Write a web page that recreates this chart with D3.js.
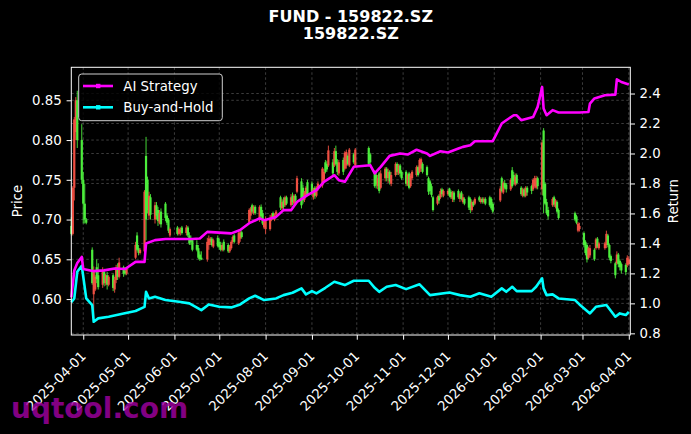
<!DOCTYPE html>
<html>
<head>
<meta charset="utf-8">
<script src="https://cdn.jsdelivr.net/npm/d3@7"></script>
<style>
  body { margin: 0; background: #000; }
  svg { display: block; font-family: "DejaVu Sans", sans-serif; }
</style>
</head>
<body>
<svg id="chart" width="691" height="434"></svg>
<script>
// daily candles: [date, open, high, low, close]
const candles = [
  ["2025-03-24",.692,.703,.680,.682],["2025-03-25",.682,.742,.680,.740],["2025-03-26",.740,.829,.724,.826],
  ["2025-03-27",.810,.854,.800,.850],["2025-03-28",.850,.862,.790,.800],["2025-03-31",.800,.820,.745,.750],
  ["2025-04-01",.750,.760,.695,.720],["2025-04-02",.720,.745,.695,.700],["2025-04-03",.700,.702,.694,.696],
  ["2025-04-07",.662,.665,.618,.620],["2025-04-08",.606,.641,.576,.634],["2025-04-09",.612,.630,.610,.628],
  ["2025-04-10",.640,.650,.620,.625],["2025-04-11",.630,.645,.612,.615],["2025-04-14",.618,.640,.614,.636],
  ["2025-04-15",.634,.638,.616,.620],["2025-04-16",.620,.632,.617,.630],["2025-04-17",.630,.634,.612,.618],
  ["2025-04-18",.618,.630,.616,.628],["2025-04-21",.630,.632,.610,.614],["2025-04-22",.612,.628,.608,.624],
  ["2025-04-23",.624,.643,.620,.640],["2025-04-24",.640,.645,.624,.628],["2025-04-25",.628,.652,.626,.646],
  ["2025-04-28",.640,.642,.628,.632],["2025-04-29",.636,.640,.630,.632],["2025-04-30",.632,.640,.630,.638],
  ["2025-05-06",.652,.672,.650,.668],["2025-05-07",.680,.684,.660,.662],["2025-05-08",.664,.668,.655,.658],
  ["2025-05-09",.658,.664,.656,.662],["2025-05-12",.660,.737,.658,.735],["2025-05-13",.780,.804,.674,.700],
  ["2025-05-14",.750,.754,.708,.712],["2025-05-15",.705,.735,.700,.730],["2025-05-16",.728,.732,.700,.706],
  ["2025-05-19",.700,.722,.695,.718],["2025-05-20",.718,.722,.700,.705],["2025-05-21",.712,.716,.692,.698],
  ["2025-05-22",.696,.712,.694,.708],["2025-05-23",.710,.714,.690,.694],["2025-05-26",.720,.722,.698,.702],
  ["2025-05-27",.705,.708,.693,.696],["2025-05-28",.700,.702,.683,.686],["2025-05-29",.680,.690,.678,.688],
  ["2025-06-03",.690,.692,.680,.682],["2025-06-04",.682,.690,.680,.688],["2025-06-05",.684,.690,.680,.687],
  ["2025-06-06",.690,.692,.681,.683],["2025-06-09",.683,.693,.680,.690],["2025-06-10",.690,.692,.678,.680],
  ["2025-06-11",.680,.684,.668,.670],["2025-06-12",.676,.680,.668,.672],["2025-06-13",.674,.676,.660,.662],
  ["2025-06-16",.668,.674,.660,.662],["2025-06-17",.664,.668,.650,.652],["2025-06-18",.656,.660,.648,.650],
  ["2025-06-19",.652,.660,.649,.650],["2025-06-23",.650,.677,.647,.672],["2025-06-24",.668,.680,.662,.676],
  ["2025-06-25",.672,.678,.668,.676],["2025-06-26",.676,.678,.666,.668],["2025-06-27",.666,.676,.664,.674],
  ["2025-06-30",.677,.680,.665,.667],["2025-07-01",.672,.676,.662,.665],["2025-07-02",.668,.672,.660,.662],
  ["2025-07-03",.662,.670,.660,.668],["2025-07-04",.672,.675,.660,.662],["2025-07-07",.668,.670,.658,.660],
  ["2025-07-08",.660,.668,.658,.666],["2025-07-09",.664,.674,.662,.672],["2025-07-10",.672,.680,.670,.678],
  ["2025-07-11",.680,.682,.670,.672],["2025-07-14",.670,.685,.668,.683],["2025-07-15",.676,.686,.672,.684],
  ["2025-07-16",.684,.686,.676,.678],["2025-07-21",.697,.714,.695,.712],["2025-07-22",.705,.716,.700,.714],
  ["2025-07-23",.718,.720,.708,.710],["2025-07-24",.708,.718,.706,.716],["2025-07-25",.716,.718,.706,.708],
  ["2025-07-28",.700,.718,.697,.716],["2025-07-29",.716,.719,.700,.704],["2025-07-30",.708,.712,.693,.695],
  ["2025-07-31",.690,.700,.688,.698],["2025-08-01",.688,.704,.682,.700],["2025-08-04",.688,.706,.686,.702],
  ["2025-08-05",.700,.708,.698,.705],["2025-08-06",.708,.710,.700,.702],["2025-08-07",.700,.708,.698,.706],
  ["2025-08-08",.706,.712,.704,.710],["2025-08-11",.728,.730,.712,.715],["2025-08-12",.714,.726,.710,.722],
  ["2025-08-13",.724,.728,.712,.716],["2025-08-14",.718,.730,.716,.728],["2025-08-15",.728,.730,.718,.720],
  ["2025-08-18",.718,.732,.716,.728],["2025-08-19",.730,.734,.718,.722],["2025-08-20",.720,.732,.718,.730],
  ["2025-08-21",.730,.732,.720,.724],["2025-08-22",.735,.755,.733,.752],["2025-08-25",.748,.752,.714,.718],
  ["2025-08-26",.740,.744,.720,.724],["2025-08-27",.725,.736,.722,.734],["2025-08-28",.730,.742,.728,.740],
  ["2025-08-29",.747,.750,.730,.732],["2025-09-01",.745,.748,.730,.733],["2025-09-02",.728,.740,.725,.738],
  ["2025-09-03",.740,.742,.726,.730],["2025-09-04",.730,.742,.728,.740],["2025-09-05",.740,.748,.736,.745],
  ["2025-09-08",.743,.766,.740,.764],["2025-09-09",.750,.764,.746,.760],["2025-09-10",.772,.775,.758,.760],
  ["2025-09-11",.770,.774,.760,.763],["2025-09-12",.768,.793,.766,.787],["2025-09-15",.772,.776,.755,.758],
  ["2025-09-16",.768,.790,.766,.786],["2025-09-17",.786,.793,.768,.770],["2025-09-18",.772,.776,.756,.760],
  ["2025-09-19",.758,.775,.755,.772],["2025-09-22",.775,.778,.756,.760],["2025-09-23",.764,.786,.762,.784],
  ["2025-09-24",.768,.788,.764,.785],["2025-09-25",.780,.782,.768,.770],["2025-09-26",.768,.790,.766,.788],
  ["2025-09-29",.782,.784,.770,.772],["2025-09-30",.768,.790,.766,.788],["2025-10-09",.790,.792,.768,.770],
  ["2025-10-10",.782,.784,.770,.772],["2025-10-13",.760,.762,.740,.742],["2025-10-14",.756,.760,.739,.744],
  ["2025-10-15",.742,.756,.738,.752],["2025-10-16",.758,.760,.733,.736],["2025-10-17",.740,.762,.738,.758],
  ["2025-10-20",.752,.766,.748,.764],["2025-10-21",.764,.766,.748,.752],["2025-10-22",.752,.764,.746,.760],
  ["2025-10-23",.760,.762,.744,.748],["2025-10-24",.745,.760,.742,.756],["2025-10-27",.756,.772,.754,.770],
  ["2025-10-28",.770,.772,.756,.760],["2025-10-29",.758,.770,.756,.768],["2025-10-30",.768,.770,.754,.758],
  ["2025-10-31",.760,.762,.750,.752],["2025-11-03",.760,.762,.742,.745],["2025-11-04",.744,.758,.742,.756],
  ["2025-11-05",.758,.760,.738,.740],["2025-11-06",.742,.758,.740,.755],["2025-11-07",.752,.762,.750,.760],
  ["2025-11-10",.756,.768,.754,.766],["2025-11-11",.766,.768,.754,.756],["2025-11-12",.760,.777,.758,.775],
  ["2025-11-13",.764,.778,.760,.776],["2025-11-14",.770,.772,.758,.760],["2025-11-17",.766,.768,.754,.756],
  ["2025-11-18",.752,.754,.731,.735],["2025-11-19",.748,.750,.732,.736],["2025-11-20",.742,.745,.728,.731],
  ["2025-11-21",.728,.730,.710,.712],["2025-11-24",.720,.730,.718,.728],["2025-11-25",.730,.732,.720,.724],
  ["2025-11-26",.728,.739,.726,.736],["2025-11-27",.738,.740,.728,.732],["2025-11-28",.730,.738,.728,.736],
  ["2025-12-01",.732,.738,.730,.736],["2025-12-02",.739,.740,.728,.730],["2025-12-03",.735,.737,.726,.728],
  ["2025-12-04",.726,.736,.722,.734],["2025-12-05",.734,.736,.722,.725],["2025-12-08",.736,.738,.726,.728],
  ["2025-12-09",.726,.734,.722,.732],["2025-12-10",.734,.736,.724,.726],["2025-12-11",.722,.732,.720,.728],
  ["2025-12-12",.726,.728,.718,.720],["2025-12-15",.728,.730,.712,.715],["2025-12-16",.726,.728,.708,.712],
  ["2025-12-17",.712,.724,.710,.722],["2025-12-18",.722,.724,.716,.718],["2025-12-19",.720,.728,.718,.726],
  ["2025-12-22",.728,.730,.722,.724],["2025-12-23",.722,.728,.720,.726],["2025-12-24",.726,.728,.720,.722],
  ["2025-12-25",.722,.728,.720,.726],["2025-12-26",.726,.728,.718,.720],["2025-12-29",.728,.730,.716,.718],
  ["2025-12-30",.726,.728,.712,.714],["2025-12-31",.720,.722,.708,.710],["2026-01-05",.724,.742,.722,.739],
  ["2026-01-06",.752,.754,.734,.736],["2026-01-07",.734,.748,.732,.746],["2026-01-08",.746,.750,.738,.740],
  ["2026-01-09",.744,.746,.734,.738],["2026-01-12",.738,.752,.736,.750],["2026-01-13",.762,.766,.740,.742],
  ["2026-01-14",.756,.760,.744,.748],["2026-01-15",.744,.758,.742,.754],["2026-01-16",.756,.758,.744,.746],
  ["2026-01-19",.740,.742,.730,.732],["2026-01-20",.730,.740,.728,.738],["2026-01-21",.738,.740,.728,.730],
  ["2026-01-22",.730,.742,.728,.740],["2026-01-23",.740,.742,.730,.734],["2026-01-26",.742,.744,.732,.736],
  ["2026-01-27",.738,.752,.736,.750],["2026-01-28",.742,.755,.740,.752],["2026-01-29",.740,.755,.738,.752],
  ["2026-01-30",.752,.754,.738,.742],["2026-02-02",.738,.800,.731,.797],["2026-02-03",.812,.815,.708,.730],
  ["2026-02-04",.745,.747,.718,.720],["2026-02-05",.722,.726,.706,.708],["2026-02-06",.712,.716,.700,.704],
  ["2026-02-09",.718,.728,.716,.726],["2026-02-10",.728,.730,.716,.719],["2026-02-11",.716,.726,.714,.724],
  ["2026-02-12",.722,.724,.708,.710],["2026-02-13",.712,.714,.700,.702],["2026-02-24",.708,.710,.698,.700],
  ["2026-02-25",.704,.706,.694,.696],["2026-02-26",.686,.697,.684,.695],["2026-02-27",.688,.696,.685,.692],
  ["2026-03-02",.683,.685,.665,.668],["2026-03-03",.672,.674,.655,.658],["2026-03-04",.668,.670,.646,.650],
  ["2026-03-05",.652,.666,.650,.664],["2026-03-06",.655,.668,.652,.664],["2026-03-09",.662,.664,.648,.650],
  ["2026-03-10",.664,.677,.662,.675],["2026-03-11",.676,.678,.664,.666],["2026-03-12",.664,.672,.662,.670],
  ["2026-03-16",.664,.672,.662,.670],["2026-03-17",.668,.686,.664,.682],["2026-03-18",.680,.682,.665,.668],
  ["2026-03-19",.668,.670,.649,.652],["2026-03-20",.654,.656,.645,.648],["2026-03-23",.645,.647,.626,.630],
  ["2026-03-24",.645,.660,.643,.656],["2026-03-25",.656,.658,.640,.644],["2026-03-26",.648,.650,.636,.640],
  ["2026-03-27",.644,.646,.632,.636],["2026-03-30",.643,.645,.630,.634],["2026-03-31",.643,.655,.640,.652],
  ["2026-04-01",.644,.654,.642,.650]
];

// cumulative return curves: [date, value]
const strategyReturn = [
  ["2025-03-24",1.04],["2025-03-26",1.22],["2025-03-28",1.27],["2025-03-31",1.31],["2025-04-01",1.23],
  ["2025-04-08",1.215],["2025-04-15",1.22],["2025-04-22",1.233],["2025-04-29",1.229],["2025-05-06",1.277],
  ["2025-05-12",1.277],["2025-05-13",1.40],["2025-05-19",1.422],["2025-05-26",1.429],["2025-06-13",1.429],
  ["2025-06-18",1.433],["2025-06-23",1.477],["2025-07-09",1.467],["2025-07-15",1.489],["2025-07-21",1.535],
  ["2025-07-28",1.567],["2025-07-31",1.555],["2025-08-08",1.577],["2025-08-13",1.622],["2025-08-18",1.622],
  ["2025-08-22",1.677],["2025-08-29",1.722],["2025-09-04",1.755],["2025-09-09",1.811],["2025-09-16",1.855],
  ["2025-09-19",1.822],["2025-09-23",1.811],["2025-09-29",1.911],["2025-10-10",1.922],["2025-10-13",1.867],
  ["2025-10-17",1.911],["2025-10-23",1.984],["2025-10-30",2.0],["2025-11-04",1.993],["2025-11-10",2.025],
  ["2025-11-17",2.0],["2025-11-19",1.984],["2025-11-26",2.015],["2025-12-01",2.007],["2025-12-08",2.033],
  ["2025-12-11",2.044],["2025-12-16",2.055],["2025-12-19",2.082],["2025-12-31",2.082],["2026-01-06",2.2],
  ["2026-01-09",2.222],["2026-01-14",2.255],["2026-01-16",2.255],["2026-01-19",2.222],["2026-01-27",2.244],
  ["2026-01-30",2.311],["2026-02-02",2.444],["2026-02-03",2.3],["2026-02-05",2.255],["2026-02-09",2.289],
  ["2026-02-13",2.273],["2026-02-27",2.273],["2026-03-05",2.277],["2026-03-06",2.333],["2026-03-09",2.367],
  ["2026-03-16",2.389],["2026-03-23",2.393],["2026-03-24",2.495],["2026-03-27",2.477],["2026-04-01",2.46]
];

const holdReturn = [
  ["2025-03-24",1.007],["2025-03-26",1.033],["2025-03-28",1.211],["2025-03-31",1.251],["2025-04-03",1.033],
  ["2025-04-07",0.989],["2025-04-08",0.877],["2025-04-11",0.90],["2025-04-18",0.911],["2025-04-28",0.933],
  ["2025-05-06",0.949],["2025-05-12",0.977],["2025-05-13",1.077],["2025-05-15",1.033],["2025-05-19",1.044],
  ["2025-05-26",1.022],["2025-06-04",1.011],["2025-06-11",1.0],["2025-06-19",0.955],["2025-06-24",0.993],
  ["2025-07-01",0.977],["2025-07-09",0.973],["2025-07-15",0.993],["2025-07-21",1.033],["2025-07-25",1.051],
  ["2025-07-31",1.022],["2025-08-08",1.033],["2025-08-13",1.055],["2025-08-19",1.071],["2025-08-25",1.10],
  ["2025-08-28",1.06],["2025-09-01",1.082],["2025-09-04",1.067],["2025-09-10",1.104],["2025-09-16",1.144],
  ["2025-09-23",1.122],["2025-09-29",1.151],["2025-10-09",1.151],["2025-10-13",1.104],["2025-10-16",1.077],
  ["2025-10-21",1.111],["2025-10-27",1.122],["2025-11-03",1.095],["2025-11-12",1.127],["2025-11-19",1.055],
  ["2025-12-02",1.073],["2025-12-09",1.055],["2025-12-16",1.044],["2025-12-22",1.067],["2025-12-30",1.044],
  ["2026-01-06",1.10],["2026-01-09",1.077],["2026-01-13",1.111],["2026-01-16",1.082],["2026-01-26",1.082],
  ["2026-01-29",1.111],["2026-02-02",1.167],["2026-02-03",1.10],["2026-02-05",1.055],["2026-02-09",1.06],
  ["2026-02-13",1.033],["2026-02-24",1.022],["2026-02-27",0.993],["2026-03-06",0.933],["2026-03-10",0.977],
  ["2026-03-17",0.989],["2026-03-23",0.911],["2026-03-26",0.933],["2026-03-30",0.922],["2026-04-01",0.944]
];

const monthTicks = ["2025-04-01","2025-05-01","2025-06-01","2025-07-01","2025-08-01","2025-09-01","2025-10-01",
  "2025-11-01","2025-12-01","2026-01-01","2026-02-01","2026-03-01","2026-04-01"];
const priceTicks = [0.60, 0.65, 0.70, 0.75, 0.80, 0.85];
const returnTicks = [0.8, 1.0, 1.2, 1.4, 1.6, 1.8, 2.0, 2.2, 2.4];

const width = 691, height = 434;
const margin = { top: 67.3, right: 60.7, bottom: 99, left: 71.3 };
const parse = d3.timeParse('%Y-%m-%d');
const upColor = '#ef4f42', downColor = '#4ced3c';

const svg = d3.select('#chart');
svg.append('rect').attr('width', width).attr('height', height).attr('fill', '#000');

const x = d3.scaleTime()
  .domain([parse('2025-03-24'), parse('2026-04-02')])
  .range([margin.left, width - margin.right]);
const yPrice = d3.scaleLinear().domain([0.5548, 0.8915]).range([height - margin.bottom, margin.top]);
const yRet = d3.scaleLinear().domain([0.789, 2.575]).range([height - margin.bottom, margin.top]);

// grid (both y axes share the plot area, so both sets of lines show)
const grid = svg.append('g')
  .attr('stroke', '#666').attr('stroke-width', 0.6).attr('stroke-dasharray', '2.5,2.5');
monthTicks.forEach(t => grid.append('line')
  .attr('x1', x(parse(t))).attr('x2', x(parse(t)))
  .attr('y1', margin.top).attr('y2', height - margin.bottom));
priceTicks.forEach(t => grid.append('line')
  .attr('x1', margin.left).attr('x2', width - margin.right)
  .attr('y1', yPrice(t)).attr('y2', yPrice(t)));
returnTicks.forEach(t => grid.append('line')
  .attr('x1', margin.left).attr('x2', width - margin.right)
  .attr('y1', yRet(t)).attr('y2', yRet(t)));

// candles
const bodyW = 2.2;
const cg = svg.append('g');
candles.forEach(([d, o, h, l, c]) => {
  const cx = x(parse(d));
  const col = c >= o ? upColor : downColor;
  cg.append('line')
    .attr('x1', cx).attr('x2', cx)
    .attr('y1', yPrice(h)).attr('y2', yPrice(l))
    .attr('stroke', col).attr('stroke-width', 0.9);
  const top = yPrice(Math.max(o, c)), bot = yPrice(Math.min(o, c));
  cg.append('rect')
    .attr('x', cx - bodyW / 2).attr('width', bodyW)
    .attr('y', top).attr('height', Math.max(0.8, bot - top))
    .attr('fill', col);
});

// return lines
const line = d3.line().x(d => x(parse(d[0]))).y(d => yRet(d[1]));
svg.append('path').datum(holdReturn)
  .attr('d', line).attr('fill', 'none')
  .attr('stroke', '#00ffff').attr('stroke-width', 2.6).attr('stroke-linejoin', 'round');
svg.append('path').datum(strategyReturn)
  .attr('d', line).attr('fill', 'none')
  .attr('stroke', '#ff00ff').attr('stroke-width', 2.6).attr('stroke-linejoin', 'round');

// axes
const fontSize = 13.3;
const xAxis = svg.append('g')
  .attr('transform', `translate(0,${height - margin.bottom})`)
  .call(d3.axisBottom(x)
    .tickValues(monthTicks.map(parse))
    .tickFormat(d3.timeFormat('%Y-%m-%d'))
    .tickSize(4.7).tickSizeOuter(0));
xAxis.selectAll('text')
  .attr('y', 0).attr('dy', 0).attr('x', 0)
  .attr('text-anchor', 'end')
  .attr('transform', 'translate(3,22) rotate(-45)');

const yAxisL = svg.append('g')
  .attr('transform', `translate(${margin.left},0)`)
  .call(d3.axisLeft(yPrice).tickValues(priceTicks).tickFormat(d3.format('.2f'))
    .tickSize(4.7).tickPadding(5).tickSizeOuter(0));
const yAxisR = svg.append('g')
  .attr('transform', `translate(${width - margin.right},0)`)
  .call(d3.axisRight(yRet).tickValues(returnTicks).tickFormat(d3.format('.1f'))
    .tickSize(4.7).tickPadding(4.5).tickSizeOuter(0));

[xAxis, yAxisL, yAxisR].forEach(a => {
  a.select('.domain').remove();
  a.selectAll('line').attr('stroke', '#fff');
  a.selectAll('text').attr('fill', '#fff')
    .style('font-size', fontSize + 'px').style('font-family', '"DejaVu Sans", sans-serif');
});

// frame
svg.append('rect')
  .attr('x', margin.left).attr('y', margin.top)
  .attr('width', width - margin.left - margin.right)
  .attr('height', height - margin.top - margin.bottom)
  .attr('fill', 'none').attr('stroke', '#fff').attr('stroke-width', 1);

// axis labels
const midY = (margin.top + height - margin.bottom) / 2;
svg.append('text').text('Price')
  .attr('transform', `translate(21.5,${midY}) rotate(-90)`)
  .attr('text-anchor', 'middle').attr('fill', '#fff').style('font-size', fontSize + 'px');
svg.append('text').text('Return')
  .attr('transform', `translate(678,${midY}) rotate(-90)`)
  .attr('text-anchor', 'middle').attr('fill', '#fff').style('font-size', fontSize + 'px');

// title
const cx0 = (margin.left + width - margin.right) / 2;
const title = svg.append('text').attr('text-anchor', 'middle').attr('fill', '#fff')
  .style('font-size', '16px').style('font-weight', 'bold');
title.append('tspan').attr('x', cx0).attr('y', 21.7).text('FUND - 159822.SZ');
title.append('tspan').attr('x', cx0).attr('y', 39).text('159822.SZ');

// legend
const legend = svg.append('g');
legend.append('rect')
  .attr('x', 78.7).attr('y', 74).attr('width', 143.6).attr('height', 46.7).attr('rx', 3)
  .attr('fill', '#000').attr('fill-opacity', 0.8).attr('stroke', '#cfcfcf').attr('stroke-width', 1);
[['AI Strategy', '#ff00ff', 86], ['Buy-and-Hold', '#00ffff', 107.3]].forEach(([name, col, ly]) => {
  legend.append('line').attr('x1', 83).attr('x2', 113).attr('y1', ly).attr('y2', ly)
    .attr('stroke', col).attr('stroke-width', 2.6);
  legend.append('rect').attr('x', 96).attr('y', ly - 2.2).attr('width', 4.4).attr('height', 4.4).attr('fill', col);
  legend.append('text').text(name)
    .attr('x', 123.3).attr('y', ly).attr('dy', '0.35em')
    .attr('fill', '#fff').style('font-size', fontSize + 'px');
});

// watermark
svg.append('text').text('uqtool.com')
  .attr('x', 11).attr('y', 417.5)
  .attr('fill', '#a000a0').attr('fill-opacity', 0.82)
  .style('font-size', '28px').style('font-weight', 'bold');
</script>
</body>
</html>
